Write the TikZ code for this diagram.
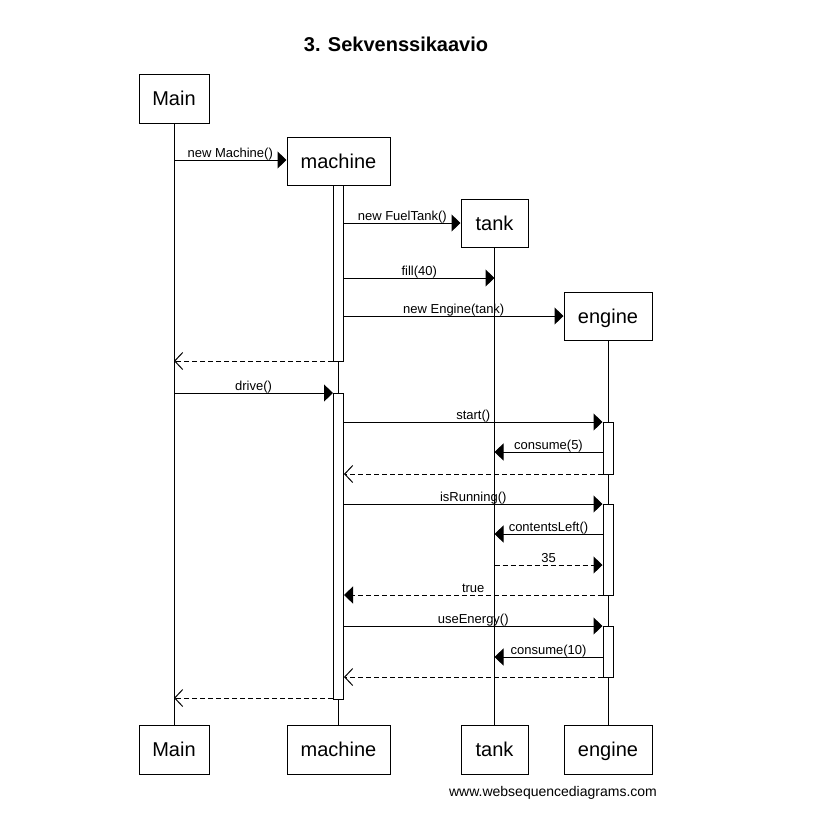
\documentclass[tikz,border=0pt]{standalone}
\usepackage{fontspec}
\setmainfont{Liberation Sans}
\usetikzlibrary{arrows.meta}
\begin{document}
\begin{tikzpicture}[x=1pt,y=-1pt,
  actor/.style={draw, line width=1pt, inner sep=0pt, minimum height=49pt, text height=14pt, text depth=0pt, font=\fontsize{20}{24}\selectfont},
  actbar/.style={draw, fill=white, line width=1pt, minimum width=10pt, inner sep=0pt},
  life/.style={line width=1pt},
  call/.style={line width=1pt, -{Triangle[length=9pt,width=17pt]}},
  reply/.style={line width=1pt, dash pattern=on 5pt off 3pt, -{Straight Barb[length=8pt,width=17pt,line width=1pt]}},
  replyf/.style={line width=1pt, dash pattern=on 5pt off 3pt, -{Triangle[length=9pt,width=17pt]}},
  lbl/.style={midway, anchor=base, yshift=3pt, inner sep=0pt, font=\fontsize{13}{15}\selectfont},
]
\useasboundingbox (0,0) rectangle (832,828);

% title and footer
\node[font=\bfseries\fontsize{20}{24}\selectfont] (title) at (396,44) {3. Sekvenssikaavio};
\node[font=\fontsize{14}{16}\selectfont] (footer) at (553,793) {www.websequencediagrams.com};

% participant boxes, top and bottom
\node[actor, minimum width=70pt]  (mainT) at (174,98.5)   {Main};
\node[actor, minimum width=103pt, minimum height=48pt] (machT) at (338.5,161) {machine};
\node[actor, minimum width=67pt, minimum height=48pt]  (tankT) at (494.5,223) {tank};
\node[actor, minimum width=88pt, minimum height=48pt]  (engT)  at (608,316)   {engine};

\node[actor, minimum width=70pt]  (mainB) at (174,749.5)   {Main};
\node[actor, minimum width=103pt] (machB) at (338.5,749.5) {machine};
\node[actor, minimum width=67pt]  (tankB) at (494.5,749.5) {tank};
\node[actor, minimum width=88pt]  (engB)  at (608,749.5)   {engine};

% lifelines
\draw[life] (mainT.south) -- (mainB.north);
\draw[life] (machT.south) -- (machB.north);
\draw[life] (tankT.south) -- (tankB.north);
\draw[life] (engT.south)  -- (engB.north);

% activation bars
\node[actbar, minimum height=176pt] (mact1) at (338.5,273) {};
\node[actbar, minimum height=306pt] (mact2) at (338.5,546) {};
\node[actbar, minimum height=52pt]  (eact1) at (608,448)   {};
\node[actbar, minimum height=91pt]  (eact2) at (608,549.5) {};
\node[actbar, minimum height=51pt]  (eact3) at (608,651.5) {};

% message rows
\coordinate (m1) at (0,160);
\coordinate (m2) at (0,223);
\coordinate (m3) at (0,278);
\coordinate (m4) at (0,316);
\coordinate (m5) at (0,361);
\coordinate (m6) at (0,393);
\coordinate (m7) at (0,422);
\coordinate (m8) at (0,452);
\coordinate (m9) at (0,474);
\coordinate (m10) at (0,504);
\coordinate (m11) at (0,534);
\coordinate (m12) at (0,565);
\coordinate (m13) at (0,595);
\coordinate (m14) at (0,626);
\coordinate (m15) at (0,657);
\coordinate (m16) at (0,677);
\coordinate (m17) at (0,698);

% messages
\draw[call] (mainT.south |- m1) -- node[lbl] (l1) {new Machine()} (machT.west |- m1);
\draw[call] (mact1.east |- m2) -- node[lbl] (l2) {new FuelTank()} (tankT.west |- m2);
\draw[call] (mact1.east |- m3) -- node[lbl] (l3) {fill(40)} (tankT.south |- m3);
\draw[call] (mact1.east |- m4) -- node[lbl] (l4) {new Engine(tank)} (engT.west |- m4);
\draw[reply] (mact1.west |- m5) -- (mainT.south |- m5);
\draw[call] (mainT.south |- m6) -- node[lbl] (l6) {drive()} (mact2.west |- m6);
\draw[call] (mact2.east |- m7) -- node[lbl] (l7) {start()} (eact1.west |- m7);
\draw[call] (eact1.west |- m8) -- node[lbl] (l8) {consume(5)} (tankT.south |- m8);
\draw[reply] (eact1.west |- m9) -- (mact2.east |- m9);
\draw[call] (mact2.east |- m10) -- node[lbl] (l10) {isRunning()} (eact2.west |- m10);
\draw[call] (eact2.west |- m11) -- node[lbl] (l11) {contentsLeft()} (tankT.south |- m11);
\draw[replyf] (tankT.south |- m12) -- node[lbl] (l12) {35} (eact2.west |- m12);
\draw[replyf] (eact2.west |- m13) -- node[lbl] (l13) {true} (mact2.east |- m13);
\draw[call] (mact2.east |- m14) -- node[lbl] (l14) {useEnergy()} (eact3.west |- m14);
\draw[call] (eact3.west |- m15) -- node[lbl] (l15) {consume(10)} (tankT.south |- m15);
\draw[reply] (eact3.west |- m16) -- (mact2.east |- m16);
\draw[reply] (mact2.west |- m17) -- (mainT.south |- m17);
\end{tikzpicture}
\end{document}
